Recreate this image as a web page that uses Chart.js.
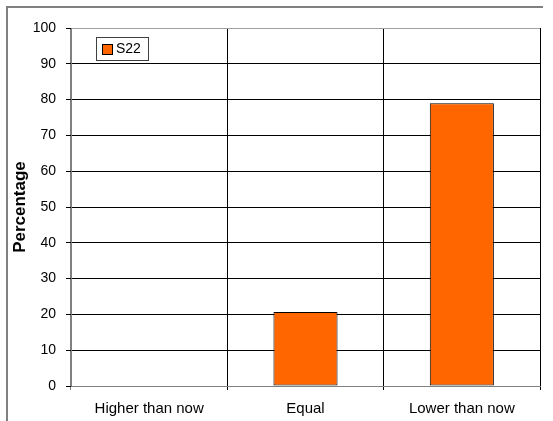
<!DOCTYPE html>
<html>
<head>
<meta charset="utf-8">
<script src="https://cdn.jsdelivr.net/npm/chart.js@4"></script>
<style>
  html, body { margin: 0; padding: 0; background: #fff; }
  #wrap { width: 553px; height: 421px; }
</style>
</head>
<body>
<div id="wrap"><canvas id="myChart"></canvas></div>
<script>
const categories = ['Higher than now', 'Equal', 'Lower than now'];
const seriesName = 'S22';
const s22Values = [0, 20.7, 79];
const yTicks = [0, 10, 20, 30, 40, 50, 60, 70, 80, 90, 100];

const FONT = 'Arial, "Liberation Sans", sans-serif';

// grey frame around the whole chart (only top and left edges show)
const framePlugin = {
    id: 'frame',
    beforeDraw(chart) {
        const ctx = chart.ctx;
        ctx.save();
        ctx.strokeStyle = '#808080';
        ctx.lineWidth = 2;
        ctx.beginPath();
        ctx.moveTo(7, 421);
        ctx.lineTo(7, 7);
        ctx.lineTo(543, 7);
        ctx.stroke();
        ctx.restore();
    }
};

// small boxed legend sitting inside the plot area
const boxLegend = {
    id: 'boxLegend',
    afterDraw(chart) {
        const ctx = chart.ctx;
        const ds = chart.data.datasets[0];
        const x = chart.chartArea.left + 25;
        const y = chart.chartArea.top + 9;
        ctx.save();
        ctx.fillStyle = '#fff';
        ctx.fillRect(x, y, 52, 23);
        ctx.strokeStyle = '#404040';
        ctx.lineWidth = 1;
        ctx.strokeRect(x + 0.5, y + 0.5, 52, 23);
        ctx.fillStyle = ds.backgroundColor;
        ctx.fillRect(x + 6, y + 7, 10, 10);
        ctx.strokeStyle = '#000';
        ctx.strokeRect(x + 6.5, y + 7.5, 10, 10);
        ctx.fillStyle = '#000';
        ctx.font = '14px ' + FONT;
        ctx.textBaseline = 'middle';
        ctx.fillText(ds.label, x + 20, y + 12.5);
        ctx.restore();
    }
};

const config = {
    type: 'bar',
    data: {
        labels: categories,
        datasets: [{
            label: seriesName,
            data: s22Values,
            backgroundColor: '#FF6600',
            borderColor: '#000000',
            borderWidth: 1,
            borderSkipped: false,
            barPercentage: 0.41,
            categoryPercentage: 1
        }]
    },
    options: {
        responsive: true,
        maintainAspectRatio: false,
        animation: false,
        devicePixelRatio: 1,
        layout: {
            padding: { left: 0, top: 28, right: 13, bottom: 0 }
        },
        plugins: {
            legend: { display: false },
            tooltip: { enabled: false }
        },
        scales: {
            x: {
                grid: {
                    offset: true,
                    color: ctx => (ctx.index === 0 || ctx.index === categories.length) ? '#808080' : '#000',
                    lineWidth: 1,
                    tickLength: 4,
                    drawTicks: true
                },
                border: { color: '#808080', width: 1 },
                ticks: {
                    color: '#000',
                    padding: 10,
                    font: { family: FONT, size: 15 }
                },
                afterFit: s => { s.height = 35; }
            },
            y: {
                min: 0,
                max: 100,
                afterBuildTicks: s => { s.ticks = yTicks.map(v => ({ value: v })); },
                grid: {
                    color: ctx => (ctx.tick && ctx.tick.value === 100) ? '#a0a0a0' : '#000',
                    lineWidth: 1,
                    tickLength: 5,
                    tickColor: '#000'
                },
                border: { color: '#808080', width: 1 },
                ticks: {
                    color: '#000',
                    padding: 10,
                    font: { family: FONT, size: 14 }
                },
                title: {
                    display: true,
                    text: 'Percentage',
                    color: '#000',
                    padding: { top: 10, bottom: 0 },
                    font: { family: FONT, size: 17, weight: 'bold' }
                },
                afterFit: s => { s.width = 71; }
            }
        }
    },
    plugins: [framePlugin, boxLegend]
};

const myChart = document.getElementById('myChart');
new Chart(myChart, config);
</script>
</body>
</html>
